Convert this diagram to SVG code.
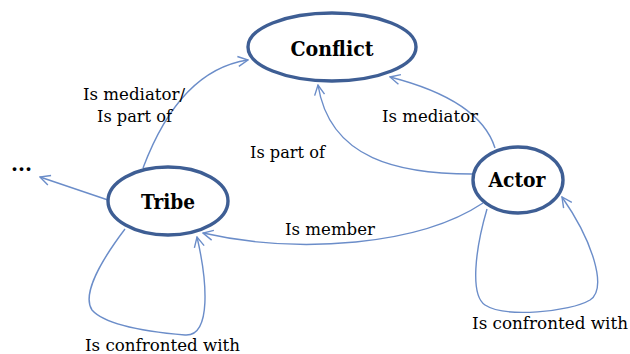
<svg xmlns="http://www.w3.org/2000/svg" width="630" height="354" viewBox="0 0 630 354">
<style>
.node{fill:#fff;stroke:#3E5E94;stroke-width:3.4}
.nt{font-family:'DejaVu Serif','Liberation Serif',serif;font-weight:bold;font-size:21px;fill:#000;text-anchor:middle}
.edge{fill:none;stroke:#6B8DC9;stroke-width:1.4}
.lbl{font-family:'DejaVu Serif','Liberation Serif',serif;font-size:16px;fill:#000}
</style>
<defs>
<marker id="arr" viewBox="0 0 12 12" refX="11" refY="6" markerWidth="12" markerHeight="12" markerUnits="userSpaceOnUse" orient="auto">
<path d="M1,1 L11,6 L1,11" fill="none" stroke="#6B8DC9" stroke-width="1.4"/>
</marker>
</defs>
<rect width="630" height="354" fill="#fff"/>
<g id="connectors">
<path class="edge" d="M143,168 Q180,70 248,60" marker-end="url(#arr)"/>
<path class="edge" d="M108,200 L40,177" marker-end="url(#arr)"/>
<path class="edge" d="M495,148 Q480,100 390,77" marker-end="url(#arr)"/>
<path class="edge" d="M472,174 C400,174 330,160 318,85" marker-end="url(#arr)"/>
<path class="edge" d="M483,203 C420,245 300,255 203,233" marker-end="url(#arr)"/>
<path class="edge" d="M125,229 C100,262 82,295 92,310 C105,325 150,332 185,335 C212,337 207,280 197,237" marker-end="url(#arr)"/>
<path class="edge" d="M487,209 C475,250 470,295 485,305 C505,318 570,312 590,300 C608,288 592,240 562,197" marker-end="url(#arr)"/>
</g>
<g id="labels">
<text class="lbl" x="83" y="100" textLength="102" lengthAdjust="spacingAndGlyphs">Is mediator/</text>
<text class="lbl" x="97" y="122" textLength="75" lengthAdjust="spacingAndGlyphs">Is part of</text>
<text class="lbl" x="382" y="122" textLength="96" lengthAdjust="spacingAndGlyphs">Is mediator</text>
<text class="lbl" x="250" y="158" textLength="75" lengthAdjust="spacingAndGlyphs">Is part of</text>
<text class="lbl" x="285" y="235" textLength="90" lengthAdjust="spacingAndGlyphs">Is member</text>
<text class="lbl" x="472" y="329" textLength="156" lengthAdjust="spacingAndGlyphs">Is confronted with</text>
<text class="lbl" x="85" y="351" textLength="155" lengthAdjust="spacingAndGlyphs">Is confronted with</text>
<text x="11" y="171" font-family="'DejaVu Serif',serif" font-weight="bold" font-size="20" textLength="21" lengthAdjust="spacingAndGlyphs">...</text>
</g>
<g id="node-conflict">
<ellipse class="node" cx="332" cy="47" rx="84" ry="34"/>
<text class="nt" x="332" y="56" textLength="83" lengthAdjust="spacingAndGlyphs">Conflict</text>
</g>
<g id="node-tribe">
<ellipse class="node" cx="168" cy="201" rx="60" ry="34"/>
<text class="nt" x="168" y="209" textLength="54" lengthAdjust="spacingAndGlyphs">Tribe</text>
</g>
<g id="node-actor">
<ellipse class="node" cx="518" cy="180" rx="45" ry="33"/>
<text class="nt" x="517" y="187" textLength="57" lengthAdjust="spacingAndGlyphs">Actor</text>
</g>
</svg>
